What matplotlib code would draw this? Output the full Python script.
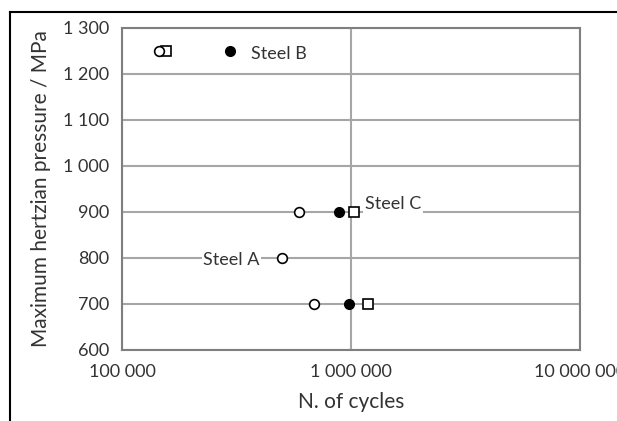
import matplotlib.pyplot as plt
from matplotlib.lines import Line2D
from matplotlib.ticker import FixedLocator

# data
cycles_a = [145000, 593000, 498000, 692000]
press_a = [1250, 900, 800, 700]
cycles_b = [296000, 889000, 982000]
press_b = [1250, 900, 700]
cycles_c = [155000, 1033000, 1183000]
press_c = [1250, 900, 700]

yticks = [600, 700, 800, 900, 1000, 1100, 1200, 1300]
xticks = [1e5, 1e6, 1e7]

plt.rcParams['font.family'] = ['Lato', 'DejaVu Sans']
txt = '#333333'
grid = '#a6a6a6'

fig = plt.figure(figsize=(6.17, 4.21), dpi=100)
ax = fig.add_axes([122/617, 1-350/421, 458/617, 322/421])

ax.plot(cycles_c, press_c, 's', ms=7.5, mfc='white', mec='black', mew=1.2, zorder=3)
ax.plot(cycles_a, press_a, 'o', ms=7, mfc='white', mec='black', mew=1.2, zorder=4)
ax.plot(cycles_b, press_b, 'o', ms=7, mfc='black', mec='black', zorder=4)

ax.set_xscale('log')
ax.set_xlim(1e5, 1e7)
ax.set_ylim(600, 1300)
ax.xaxis.set_major_locator(FixedLocator(xticks))
ax.xaxis.set_minor_locator(FixedLocator([]))
ax.set_xticks(xticks)
ax.set_xticklabels(['{:,}'.format(int(v)).replace(',', ' ') for v in xticks])
ax.set_yticks(yticks)
ax.set_yticklabels(['{:,}'.format(v).replace(',', ' ') for v in yticks])
ax.grid(True, color=grid, lw=1.5)
ax.set_axisbelow(True)
for s in ax.spines.values():
    s.set_color('#7f7f7f')
    s.set_linewidth(1.5)
ax.tick_params(length=0, labelsize=13, labelcolor=txt)
ax.tick_params(axis='x', pad=10)
ax.tick_params(axis='y', pad=9)

ax.set_xlabel('N. of cycles', fontsize=15, color=txt, labelpad=9)
ax.set_ylabel('Maximum hertzian pressure / MPa', fontsize=15, color=txt, labelpad=9)

box = dict(facecolor='white', edgecolor='none', pad=1)
ax.text(365000, 1244, 'Steel B', fontsize=13, color=txt, va='center')
ax.text(1150000, 917, 'Steel C', fontsize=13, color=txt, va='center', bbox=box)
ax.text(400000, 795, 'Steel A', fontsize=13, color=txt, va='center', ha='right', bbox=box)

# outer frame
fig.add_artist(Line2D([10/617, 10/617], [0, 1-12/421], color='black', lw=1.5))
fig.add_artist(Line2D([10/617, 1], [1-12/421, 1-12/421], color='black', lw=1.5))

fig.savefig('out.png', dpi=100)
